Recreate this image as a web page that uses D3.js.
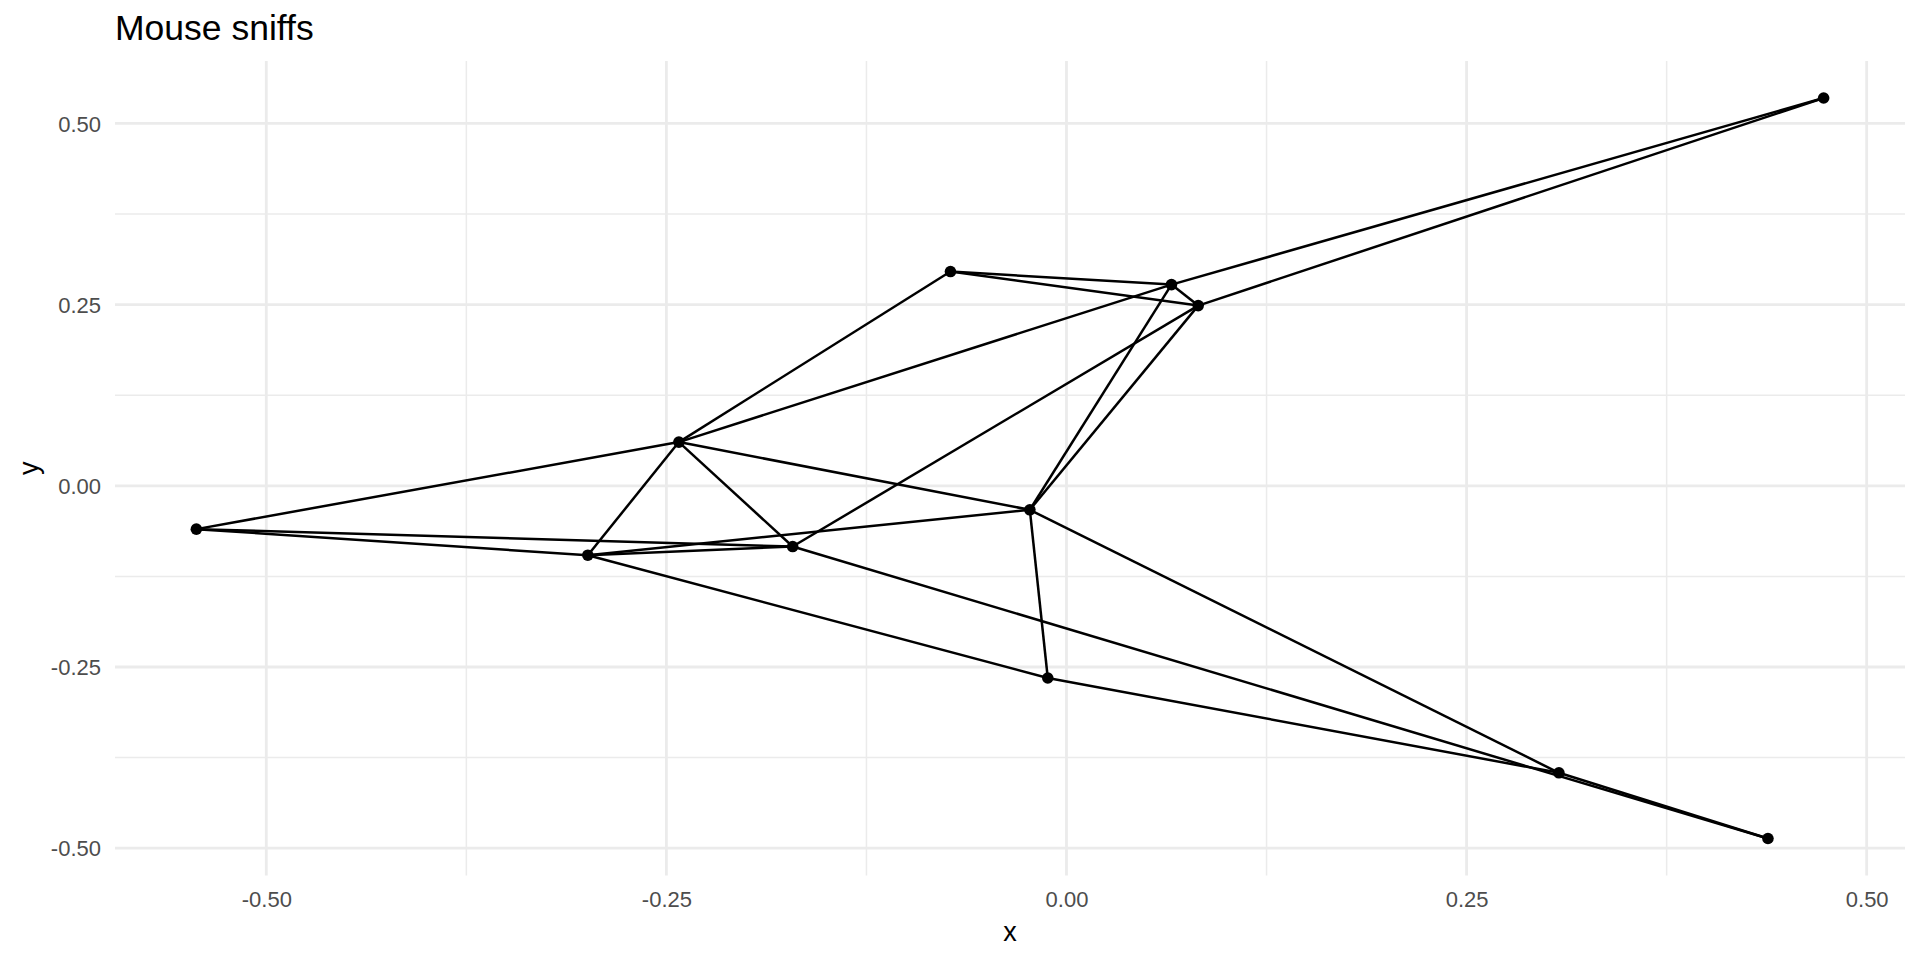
<!DOCTYPE html>
<html>
<head>
<meta charset="utf-8">
<script src="https://cdn.jsdelivr.net/npm/d3@7"></script>
<style>
  html, body { margin: 0; padding: 0; background: #fff; }
  svg { display: block; font-family: "Liberation Sans", Arial, Helvetica, sans-serif; }
</style>
</head>
<body>
<svg id="chart" width="1920" height="960"></svg>
<script>
// ---- data ----
const nodeX = [-0.5437, -0.2991, -0.2422, -0.1711, -0.0725, 0.0656, 0.0823, -0.0229, -0.0117, 0.3077, 0.4383, 0.4731];
const nodeY = [-0.0598, -0.0958, 0.0603, -0.0838, 0.2956, 0.2776, 0.2486, -0.0331, -0.2652, -0.3960, -0.4866, 0.5350];
const edgeFrom = [1, 1, 1, 2, 2, 2, 2, 3, 3, 3, 3, 4, 4, 5, 5, 6, 6, 6, 7, 7, 8, 8, 9, 10];
const edgeTo   = [2, 3, 4, 3, 4, 8, 9, 4, 5, 6, 8, 7, 11, 6, 7, 7, 8, 12, 8, 12, 9, 10, 10, 11];
const xTicks = [-0.5, -0.25, 0, 0.25, 0.5];
const xTickLabels = ["-0.50", "-0.25", "0.00", "0.25", "0.50"];
const xMinor = [-0.375, -0.125, 0.125, 0.375];
const yTicks = [-0.5, -0.25, 0, 0.25, 0.5];
const yTickLabels = ["-0.50", "-0.25", "0.00", "0.25", "0.50"];
const yMinor = [-0.375, -0.125, 0.125, 0.375];
const title = "Mouse sniffs";

// ---- layout ----
const svg = d3.select("#chart");
const panel = { left: 115, right: 1905, top: 61, bottom: 875.5 };

const xExt = d3.extent(nodeX), yExt = d3.extent(nodeY);
const xPad = (xExt[1] - xExt[0]) * 0.05, yPad = (yExt[1] - yExt[0]) * 0.05;
const x = d3.scaleLinear().domain([xExt[0] - xPad, xExt[1] + xPad]).range([panel.left, panel.right]);
const y = d3.scaleLinear().domain([yExt[0] - yPad, yExt[1] + yPad]).range([panel.bottom, panel.top]);

const grid = svg.append("g");
// minor gridlines
grid.selectAll(".xm").data(xMinor).join("line")
  .attr("x1", d => x(d)).attr("x2", d => x(d))
  .attr("y1", panel.top).attr("y2", panel.bottom)
  .attr("stroke", "#EBEBEB").attr("stroke-width", 1.5);
grid.selectAll(".ym").data(yMinor).join("line")
  .attr("y1", d => y(d)).attr("y2", d => y(d))
  .attr("x1", panel.left).attr("x2", panel.right)
  .attr("stroke", "#EBEBEB").attr("stroke-width", 1.5);
// major gridlines
grid.selectAll(".xM").data(xTicks).join("line")
  .attr("x1", d => x(d)).attr("x2", d => x(d))
  .attr("y1", panel.top).attr("y2", panel.bottom)
  .attr("stroke", "#EBEBEB").attr("stroke-width", 2.8);
grid.selectAll(".yM").data(yTicks).join("line")
  .attr("y1", d => y(d)).attr("y2", d => y(d))
  .attr("x1", panel.left).attr("x2", panel.right)
  .attr("stroke", "#EBEBEB").attr("stroke-width", 2.8);

// axes labels (ticks)
const xAxis = d3.axisBottom(x).tickValues(xTicks).tickFormat((d, i) => xTickLabels[i]).tickSize(0).tickPadding(0);
const gx = svg.append("g").attr("transform", `translate(0,${panel.bottom})`).call(xAxis);
gx.select(".domain").remove();
gx.selectAll("text").attr("fill", "#4D4D4D").attr("font-size", 22).attr("dy", null).attr("y", 31)
  .attr("font-family", "Liberation Sans, Arial, sans-serif");

const yAxis = d3.axisLeft(y).tickValues(yTicks).tickFormat((d, i) => yTickLabels[i]).tickSize(0).tickPadding(0);
const gy = svg.append("g").attr("transform", `translate(${panel.left - 14},0)`).call(yAxis);
gy.select(".domain").remove();
gy.selectAll("text").attr("fill", "#4D4D4D").attr("font-size", 22).attr("dy", "0.35em").attr("x", 0)
  .attr("font-family", "Liberation Sans, Arial, sans-serif");

// edges
svg.append("g").selectAll("line").data(edgeFrom.map((f, i) => [f - 1, edgeTo[i] - 1])).join("line")
  .attr("x1", d => x(nodeX[d[0]])).attr("y1", d => y(nodeY[d[0]]))
  .attr("x2", d => x(nodeX[d[1]])).attr("y2", d => y(nodeY[d[1]]))
  .attr("stroke", "#000").attr("stroke-width", 2.5).attr("stroke-linecap", "butt");

// nodes
svg.append("g").selectAll("circle").data(nodeX.map((v, i) => i)).join("circle")
  .attr("cx", i => x(nodeX[i])).attr("cy", i => y(nodeY[i])).attr("r", 5.8).attr("fill", "#000");

// titles
svg.append("text").attr("x", panel.left).attr("y", 40).attr("font-size", 35.5).attr("fill", "#000").text(title);
svg.append("text").attr("x", (panel.left + panel.right) / 2).attr("y", 941).attr("text-anchor", "middle")
  .attr("font-size", 27).attr("fill", "#000").text("x");
svg.append("text").attr("transform", `translate(38,${(panel.top + panel.bottom) / 2}) rotate(-90)`)
  .attr("text-anchor", "middle").attr("font-size", 27).attr("fill", "#000").text("y");
</script>
</body>
</html>
